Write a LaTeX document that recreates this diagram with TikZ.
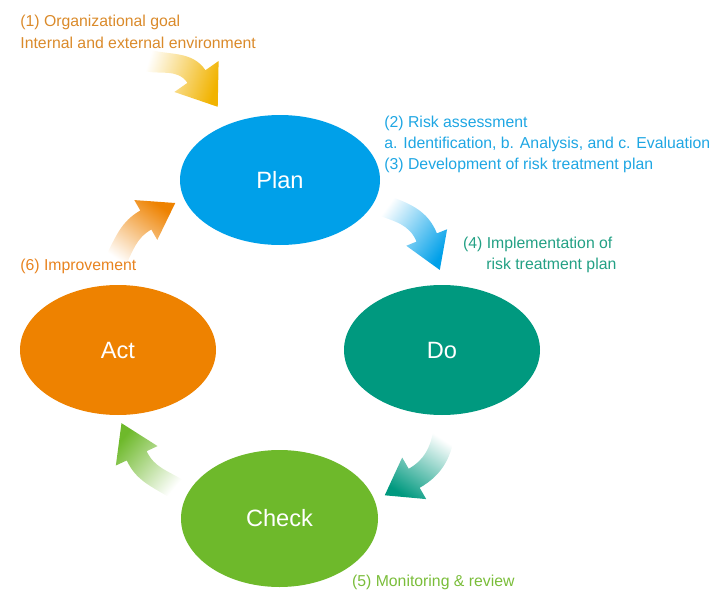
\documentclass[tikz,border=0pt]{standalone}
\usepackage{fontspec}
\setmainfont{Liberation Sans}
\usepackage{tikz}
\usepackage{xcolor}
\usetikzlibrary{shapes.geometric,calc}

\definecolor{plancol}{HTML}{00A0E9}
\definecolor{docol}{HTML}{00997F}
\definecolor{checkcol}{HTML}{6EB92B}
\definecolor{actcol}{HTML}{EE8200}
\definecolor{goalcol}{HTML}{F1B300}
\definecolor{goaltxt}{HTML}{DA8A2A}
\definecolor{plantxt}{HTML}{1EA6E3}
\definecolor{dotxt}{HTML}{22A084}
\definecolor{checktxt}{HTML}{7ABD3A}
\definecolor{acttxt}{HTML}{E8831F}

\tikzset{
  phase/.style={ellipse, inner sep=0pt, text=white, font=\fontsize{11.8pt}{13pt}\selectfont},
  note/.style={anchor=base west, inner sep=0pt, font=\fontsize{7.9pt}{10pt}\selectfont}
}

\begin{document}
\begin{tikzpicture}[x=0.5pt,y=0.5pt]
        \useasboundingbox (0,0) rectangle (713,591);
        % tails and heads of the cycle arrows
        \coordinate (t1) at (145,531);   \coordinate (b1) at (196.5,514.5);
        \coordinate (t2) at (382,386);   \coordinate (b2) at (426.7,353.5);
        \coordinate (t3) at (444,158);   \coordinate (b3) at (414.2,112.7);
        \coordinate (t4) at (178,101);   \coordinate (b4) at (136.7,135.2);
        \coordinate (t5) at (115,329);   \coordinate (b5) at (145.8,371);
        \foreach \i / \col / \ta / \ha / \hl / \hh / \sa in {1/goalcol/-15/-55/37/27/252,
            2/plancol/-20/-68/35/22/234, 3/docol/-100/-150/34/24/147,
            4/checkcol/147/115/36/23/50, 5/actcol/62/30/34/23/324} {
          \pgfmathsetmacro\tl{\ta+90}  \pgfmathsetmacro\tr{\ta-90}
          \pgfmathsetmacro\hlft{\ha+90} \pgfmathsetmacro\hrgt{\ha-90}
          \pgfmathsetmacro\hb{\ha+180}
          \shade[bottom color=white, middle color=\col!70, top color=\col, shading angle=\sa]
            ($(t\i)+(\tl:11)$) to[out=\ta, in=\hb] ($(b\i)+(\hlft:11)$)
            -- ($(b\i)+(\hlft:\hh)$) -- ($(b\i)+(\ha:\hl)$) -- ($(b\i)+(\hrgt:\hh)$)
            -- ($(b\i)+(\hrgt:11)$) to[out=\hb, in=\ta] ($(t\i)+(\tr:11)$) -- cycle;
        };
        \node[phase, fill=plancol, minimum width=100pt, minimum height=65pt] (Plan) at (280,411) {Plan};
        \node[phase, fill=docol, minimum width=98pt, minimum height=65pt] (Do) at (442,241) {Do};
        \node[phase, fill=checkcol, minimum width=98.5pt, minimum height=68.5pt] (Check) at (279.5,72.5) {Check};
        \node[phase, fill=actcol, minimum width=98pt, minimum height=65pt] (Act) at (118,241) {Act};
        % labels
        \node[note, text=goaltxt] (goal1) at (20,565) {(1) Organizational goal};
        \node[note, text=goaltxt] (goal2) at (20,543) {Internal and external environment};
        \node[note, text=plantxt] (risk1) at (384,464) {(2) Risk assessment};
        \node[note, text=plantxt] (risk2) at (384,442.7) {a. Identification, b. Analysis, and c. Evaluation};
        \node[note, text=plantxt] (risk3) at (384,421.7) {(3) Development of risk treatment plan};
        \node[note, text=dotxt] (impl1) at (462.7,342.7) {(4) Implementation of};
        \node[note, text=dotxt] (impl2) at (486,322) {risk treatment plan};
        \node[note, text=checktxt] (monitor) at (351.7,4.3) {(5) Monitoring \& review};
        \node[note, text=acttxt] (improve) at (20,321) {(6) Improvement};
    \end{tikzpicture}
\end{document}
